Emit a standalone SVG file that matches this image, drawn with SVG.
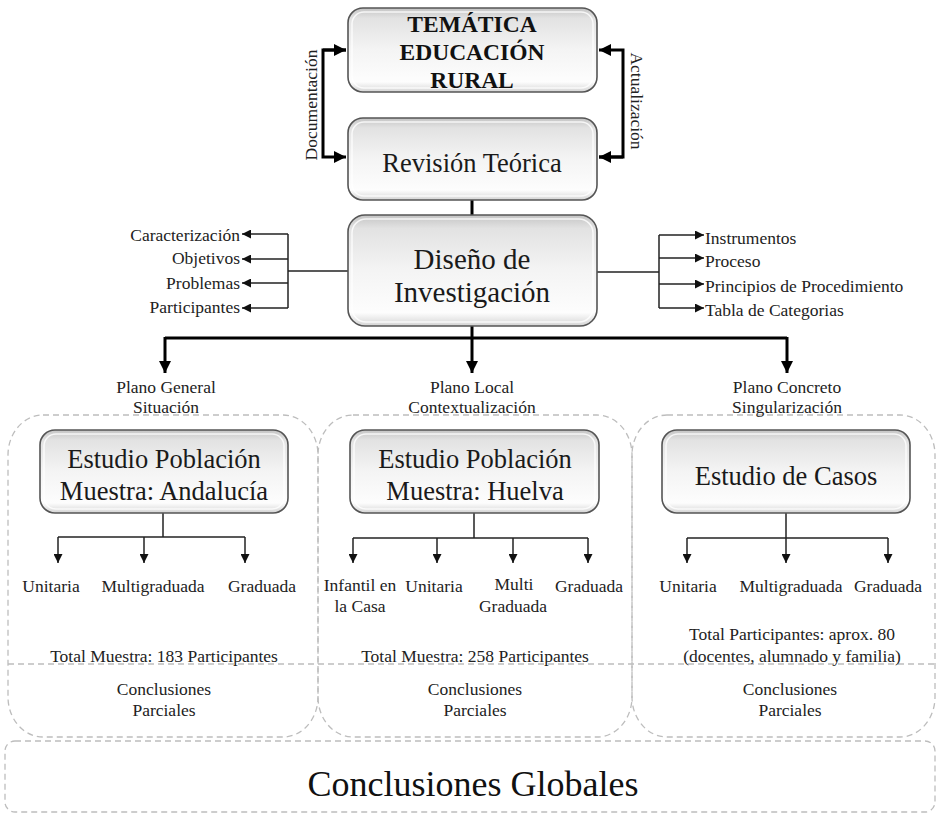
<svg xmlns="http://www.w3.org/2000/svg" width="938" height="814" viewBox="0 0 938 814">
  <defs>
    <linearGradient id="boxFill" x1="0" y1="0" x2="0" y2="1">
      <stop offset="0" stop-color="#c4c4c4"/>
      <stop offset="0.12" stop-color="#e2e2e2"/>
      <stop offset="0.5" stop-color="#f4f4f4"/>
      <stop offset="0.88" stop-color="#fdfdfd"/>
      <stop offset="1" stop-color="#d4d4d4"/>
    </linearGradient>
    <marker id="headBig" viewBox="0 0 10 10" refX="10" refY="5" markerWidth="12" markerHeight="12" markerUnits="userSpaceOnUse" orient="auto">
      <path d="M0,0 L10,5 L0,10 Z" fill="#000"/>
    </marker>
    <marker id="headSmall" viewBox="0 0 10 10" refX="10" refY="5" markerWidth="9" markerHeight="9" markerUnits="userSpaceOnUse" orient="auto">
      <path d="M0,0 L10,5 L0,10 Z" fill="#111"/>
    </marker>
    <style>
      .box { fill: url(#boxFill); stroke: #555; stroke-width: 1.6; }
      .inner { fill: none; stroke: #ffffff; stroke-width: 1.5; opacity: 0.8; }
      .panel { fill: none; stroke: #bdbdbd; stroke-width: 1.3; stroke-dasharray: 6 4; }
      .thick { fill: none; stroke: #000; stroke-width: 3; }
      .thin { fill: none; stroke: #222; stroke-width: 1.5; }
      text { font-family: "Liberation Serif", "Times New Roman", serif; fill: #222; }
      .title { font-size: 23.5px; font-weight: bold; fill: #111; text-anchor: middle; }
      .big { font-size: 26.5px; text-anchor: middle; fill: #1a1a1a; }
      .huge { font-size: 36px; text-anchor: middle; fill: #111; }
      .lbl { font-size: 17.5px; }
      .mid { text-anchor: middle; }
      .end { text-anchor: end; }
    </style>
  </defs>

  <!-- dashed study panels -->
  <g id="panels">
    <rect class="panel" x="8" y="415" width="310" height="322" rx="35" ry="40"/>
    <rect class="panel" x="318" y="415" width="314" height="322" rx="35" ry="40"/>
    <rect class="panel" x="632" y="415" width="303" height="322" rx="35" ry="40"/>
    <line class="panel" x1="8" y1="664" x2="935" y2="664"/>
    <rect class="panel" x="5" y="741" width="930" height="71" rx="10" ry="10"/>
  </g>

  <!-- connectors -->
  <g id="connectors">
    <!-- feedback loops between theme and theory review -->
    <polyline class="thick" points="346,50 323,50 323,157 346,157" marker-end="url(#headBig)"/>
    <line class="thick" x1="323" y1="50" x2="346" y2="50" marker-end="url(#headBig)"/>
    <polyline class="thick" points="599,157 623,157 623,50 599,50" marker-end="url(#headBig)"/>
    <line class="thick" x1="623" y1="157" x2="599" y2="157" marker-end="url(#headBig)"/>
    <line class="thick" x1="472" y1="200" x2="472" y2="215"/>

    <!-- research design side lists -->
    <line class="thin" x1="348" y1="271" x2="288" y2="271"/>
    <line class="thin" x1="288" y1="234" x2="288" y2="308"/>
    <line class="thin" x1="288" y1="234" x2="242" y2="234" marker-end="url(#headSmall)"/>
    <line class="thin" x1="288" y1="259" x2="242" y2="259" marker-end="url(#headSmall)"/>
    <line class="thin" x1="288" y1="283" x2="242" y2="283" marker-end="url(#headSmall)"/>
    <line class="thin" x1="288" y1="308" x2="242" y2="308" marker-end="url(#headSmall)"/>

    <line class="thin" x1="597" y1="272" x2="659" y2="272"/>
    <line class="thin" x1="659" y1="235" x2="659" y2="308"/>
    <line class="thin" x1="659" y1="235" x2="704" y2="235" marker-end="url(#headSmall)"/>
    <line class="thin" x1="659" y1="258" x2="704" y2="258" marker-end="url(#headSmall)"/>
    <line class="thin" x1="659" y1="284" x2="704" y2="284" marker-end="url(#headSmall)"/>
    <line class="thin" x1="659" y1="308" x2="704" y2="308" marker-end="url(#headSmall)"/>

    <!-- split into the three study levels -->
    <polyline class="thick" points="472,326 472,338"/>
    <line class="thick" x1="165" y1="338" x2="787" y2="338"/>
    <line class="thick" x1="165" y1="337" x2="165" y2="373" marker-end="url(#headBig)"/>
    <line class="thick" x1="472" y1="337" x2="472" y2="373" marker-end="url(#headBig)"/>
    <line class="thick" x1="787" y1="337" x2="787" y2="373" marker-end="url(#headBig)"/>

    <!-- Andalucía branches -->
    <line class="thin" x1="163" y1="513" x2="163" y2="537"/>
    <line class="thin" x1="58" y1="537" x2="245" y2="537"/>
    <line class="thin" x1="58" y1="537" x2="58" y2="563" marker-end="url(#headSmall)"/>
    <line class="thin" x1="144" y1="537" x2="144" y2="563" marker-end="url(#headSmall)"/>
    <line class="thin" x1="245" y1="537" x2="245" y2="563" marker-end="url(#headSmall)"/>

    <!-- Huelva branches -->
    <line class="thin" x1="474" y1="513" x2="474" y2="538"/>
    <line class="thin" x1="353" y1="538" x2="588" y2="538"/>
    <line class="thin" x1="353" y1="538" x2="353" y2="563" marker-end="url(#headSmall)"/>
    <line class="thin" x1="437" y1="538" x2="437" y2="563" marker-end="url(#headSmall)"/>
    <line class="thin" x1="513" y1="538" x2="513" y2="563" marker-end="url(#headSmall)"/>
    <line class="thin" x1="588" y1="538" x2="588" y2="563" marker-end="url(#headSmall)"/>

    <!-- case study branches -->
    <line class="thin" x1="786" y1="513" x2="786" y2="563" marker-end="url(#headSmall)"/>
    <line class="thin" x1="687" y1="538" x2="888" y2="538"/>
    <line class="thin" x1="687" y1="538" x2="687" y2="563" marker-end="url(#headSmall)"/>
    <line class="thin" x1="888" y1="538" x2="888" y2="563" marker-end="url(#headSmall)"/>
  </g>

  <!-- loop labels -->
  <text class="lbl mid" transform="translate(317,105) rotate(-90)">Documentación</text>
  <text class="lbl mid" transform="translate(631,101) rotate(90)">Actualización</text>

  <g id="tematica">
    <rect class="box" x="348" y="8" width="249" height="84" rx="15"/>
    <rect class="inner" x="352" y="12" width="241" height="76" rx="12"/>
    <text class="title" x="472" y="32">TEMÁTICA</text>
    <text class="title" x="472" y="60">EDUCACIÓN</text>
    <text class="title" x="472" y="88">RURAL</text>
  </g>

  <g id="revision">
    <rect class="box" x="348" y="118" width="249" height="82" rx="15"/>
    <rect class="inner" x="352" y="122" width="241" height="74" rx="12"/>
    <text class="big" x="472" y="172">Revisión Teórica</text>
  </g>

  <g id="diseno">
    <rect class="box" x="348" y="215" width="249" height="111" rx="17"/>
    <rect class="inner" x="352" y="219" width="241" height="103" rx="14"/>
    <text class="big" x="472" y="269" style="font-size:29px">Diseño de</text>
    <text class="big" x="472" y="302" style="font-size:29px">Investigación</text>
  </g>

  <g id="lista-izquierda">
    <text class="lbl end" x="240" y="241">Caracterización</text>
    <text class="lbl end" x="240" y="264">Objetivos</text>
    <text class="lbl end" x="240" y="289">Problemas</text>
    <text class="lbl end" x="240" y="313">Participantes</text>
  </g>

  <g id="lista-derecha">
    <text class="lbl" x="705" y="244">Instrumentos</text>
    <text class="lbl" x="705" y="267">Proceso</text>
    <text class="lbl" x="705" y="292">Principios de Procedimiento</text>
    <text class="lbl" x="705" y="316">Tabla de Categorias</text>
  </g>

  <g id="planos">
    <text class="lbl mid" x="166" y="393">Plano General</text>
    <text class="lbl mid" x="166" y="413">Situación</text>
    <text class="lbl mid" x="472" y="393">Plano Local</text>
    <text class="lbl mid" x="472" y="413">Contextualización</text>
    <text class="lbl mid" x="787" y="393">Plano Concreto</text>
    <text class="lbl mid" x="787" y="413">Singularización</text>
  </g>

  <g id="estudio-andalucia">
    <rect class="box" x="40" y="430" width="248" height="83" rx="15"/>
    <rect class="inner" x="44" y="434" width="240" height="75" rx="12"/>
    <text class="big" x="164" y="468">Estudio Población</text>
    <text class="big" x="164" y="500">Muestra: Andalucía</text>
  </g>

  <g id="estudio-huelva">
    <rect class="box" x="350" y="430" width="249" height="83" rx="15"/>
    <rect class="inner" x="354" y="434" width="241" height="75" rx="12"/>
    <text class="big" x="475" y="468">Estudio Población</text>
    <text class="big" x="475" y="500">Muestra: Huelva</text>
  </g>

  <g id="estudio-casos">
    <rect class="box" x="662" y="430" width="248" height="83" rx="15"/>
    <rect class="inner" x="666" y="434" width="240" height="75" rx="12"/>
    <text class="big" x="786" y="485">Estudio de Casos</text>
  </g>

  <g id="tipos-andalucia">
    <text class="lbl mid" x="51" y="592">Unitaria</text>
    <text class="lbl mid" x="153" y="592">Multigraduada</text>
    <text class="lbl mid" x="262" y="592">Graduada</text>
    <text class="lbl mid" x="164" y="662">Total Muestra: 183 Participantes</text>
    <text class="lbl mid" x="164" y="695">Conclusiones</text>
    <text class="lbl mid" x="164" y="716">Parciales</text>
  </g>

  <g id="tipos-huelva">
    <text class="lbl mid" x="360" y="591">Infantil en</text>
    <text class="lbl mid" x="360" y="612">la Casa</text>
    <text class="lbl mid" x="434" y="592">Unitaria</text>
    <text class="lbl mid" x="514" y="590">Multi</text>
    <text class="lbl mid" x="513" y="612">Graduada</text>
    <text class="lbl mid" x="589" y="592">Graduada</text>
    <text class="lbl mid" x="475" y="662">Total Muestra: 258 Participantes</text>
    <text class="lbl mid" x="475" y="695">Conclusiones</text>
    <text class="lbl mid" x="475" y="716">Parciales</text>
  </g>

  <g id="tipos-casos">
    <text class="lbl mid" x="688" y="592">Unitaria</text>
    <text class="lbl mid" x="791" y="592">Multigraduada</text>
    <text class="lbl mid" x="888" y="592">Graduada</text>
    <text class="lbl mid" x="792" y="640">Total Participantes: aprox. 80</text>
    <text class="lbl mid" x="792" y="662">(docentes, alumnado y familia)</text>
    <text class="lbl mid" x="790" y="695">Conclusiones</text>
    <text class="lbl mid" x="790" y="716">Parciales</text>
  </g>

  <g id="conclusiones-globales">
    <text class="huge" x="473" y="796">Conclusiones Globales</text>
  </g>
</svg>
